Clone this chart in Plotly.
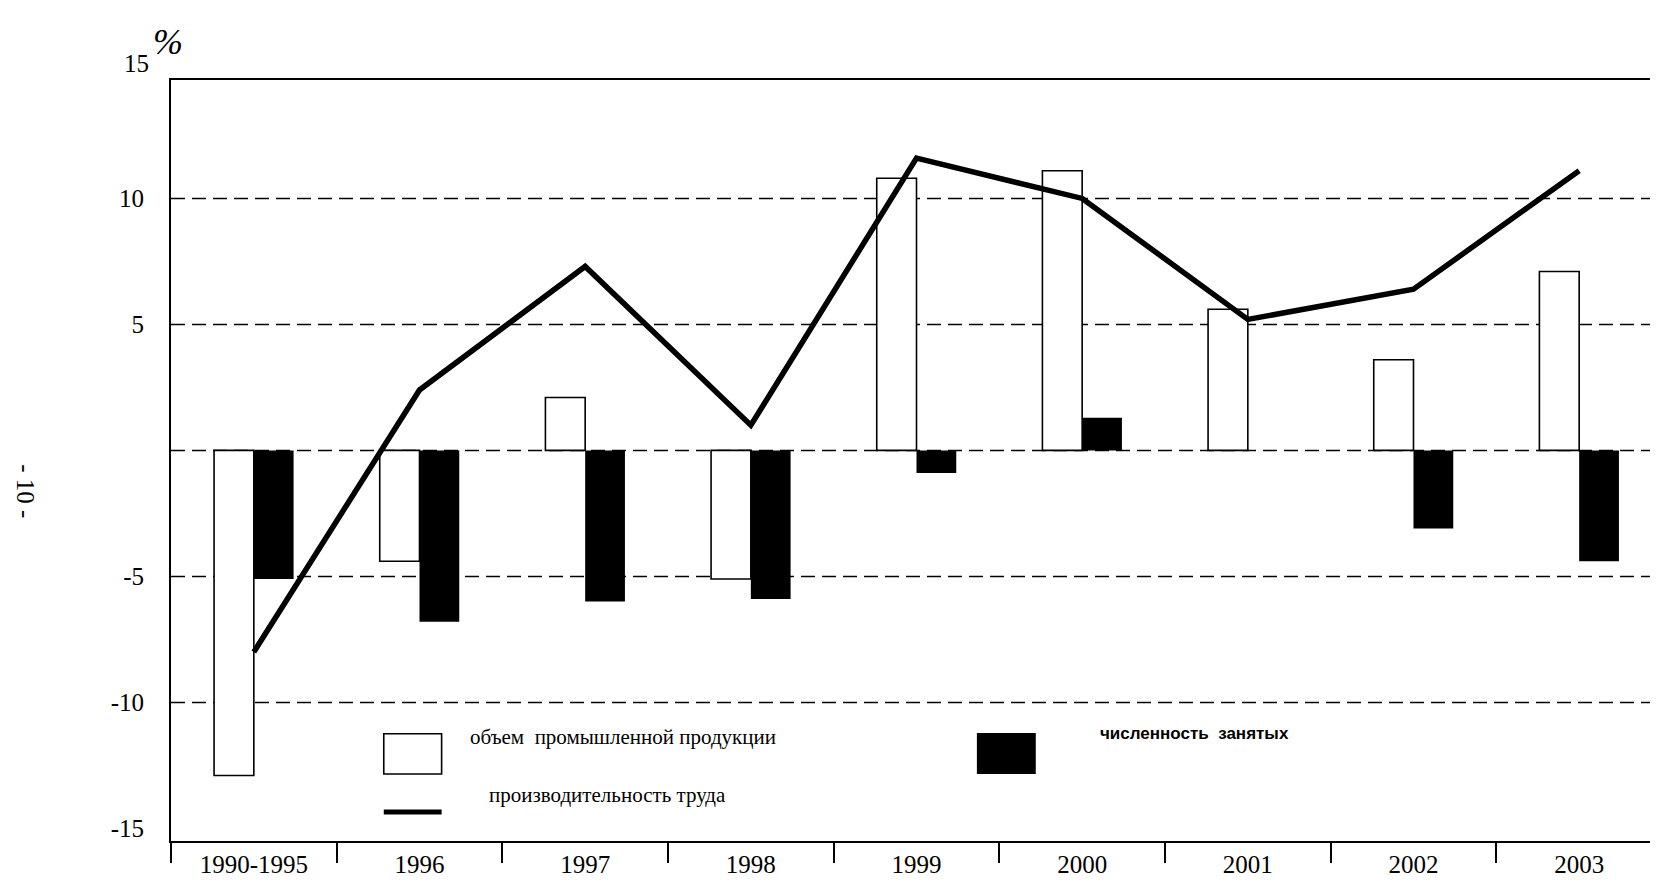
import plotly.graph_objects as go

years = ["1990-1995", "1996", "1997", "1998", "1999", "2000", "2001", "2002", "2003"]
output_volume = [-12.9, -4.4, 2.1, -5.1, 10.8, 11.1, 5.6, 3.6, 7.1]
employment = [-5.1, -6.8, -6.0, -5.9, -0.9, 1.3, 0.0, -3.1, -4.4]
productivity = [-8.0, 2.4, 7.3, 1.0, 11.6, 10.0, 5.2, 6.4, 11.1]

tick_vals = [-15, -10, -5, 0, 5, 10]
tick_text = ["-15", "-10", "-5", "", "5", "10"]
grid_vals = [-10, -5, 0, 5, 10]

SERIF = "Liberation Serif, Times New Roman, serif"

fig = go.Figure()
fig.add_trace(go.Bar(
    x=years, y=output_volume, name="объем промышленной продукции",
    marker=dict(color="white", line=dict(color="black", width=1.6)),
))
fig.add_trace(go.Bar(
    x=years, y=employment, name="численность занятых",
    marker=dict(color="black", line=dict(color="black", width=0)),
))
fig.add_trace(go.Scatter(
    x=years, y=productivity, mode="lines", name="производительность труда",
    line=dict(color="black", width=5.5),
))

# dashed horizontal reference lines
for v in grid_vals:
    fig.add_shape(type="line", xref="paper", x0=0, x1=1, y0=v, y1=v,
                  line=dict(color="black", width=1.5, dash="14px,7px"), layer="below")

# hand-drawn style legend
fig.add_shape(type="rect", xref="paper", yref="paper", x0=0.1427, x1=0.1815, y0=0.088, y1=0.141,
              line=dict(color="black", width=1.6), fillcolor="white")
fig.add_shape(type="rect", xref="paper", yref="paper", x0=0.5405, x1=0.580, y0=0.088, y1=0.142,
              line=dict(color="black", width=0), fillcolor="black")
fig.add_shape(type="line", xref="paper", yref="paper", x0=0.1427, x1=0.1815, y0=0.038, y1=0.038,
              line=dict(color="black", width=5))

notes = [
    dict(text="объем  промышленной продукции", x=0.199, y=0.137, size=21, font=SERIF),
    dict(text="<b>численность  занятых</b>", x=0.622, y=0.141, size=17, font="Liberation Sans, Arial, sans-serif"),
    dict(text="производительность труда", x=0.212, y=0.061, size=21, font=SERIF),
]
for n in notes:
    fig.add_annotation(text=n["text"], xref="paper", yref="paper", x=n["x"], y=n["y"],
                       xanchor="left", yanchor="middle", showarrow=False,
                       font=dict(family=n["font"], size=n["size"], color="black"))

fig.add_annotation(text="15", xref="paper", yref="paper", x=0, y=1, xanchor="right", yanchor="middle",
                   xshift=-20, yshift=17, showarrow=False, font=dict(family=SERIF, size=25, color="black"))
fig.add_annotation(text="<i>%</i>", xref="paper", yref="paper", x=-0.002, y=1.05, xanchor="center",
                   yanchor="middle", showarrow=False, font=dict(family=SERIF, size=36, color="black"))
fig.add_annotation(text="- 10 -", xref="paper", yref="paper", x=-0.108, y=0.459, textangle=90,
                   showarrow=False, font=dict(family=SERIF, size=25, color="black"))

fig.update_layout(
    width=1658, height=888,
    margin=dict(l=163, r=2, t=72, b=55),
    paper_bgcolor="white", plot_bgcolor="white",
    barmode="group", bargap=0.52, bargroupgap=0,
    showlegend=False,
    font=dict(family=SERIF, size=25, color="black"),
)
fig.update_xaxes(
    type="category", showgrid=False, zeroline=False,
    showline=True, linecolor="black", linewidth=2, mirror=True,
    ticks="outside", tickson="boundaries", ticklen=20, tickwidth=2, tickcolor="black",
    tickfont=dict(family=SERIF, size=25),
)
fig.update_yaxes(
    range=[-15.5, 14.7], showgrid=False, zeroline=False,
    showline=True, linecolor="black", linewidth=2, mirror=True,
    tickvals=tick_vals, ticktext=tick_text, ticks="", ticklabelstandoff=20,
    tickfont=dict(family=SERIF, size=25),
)

fig.write_html("out.html")
